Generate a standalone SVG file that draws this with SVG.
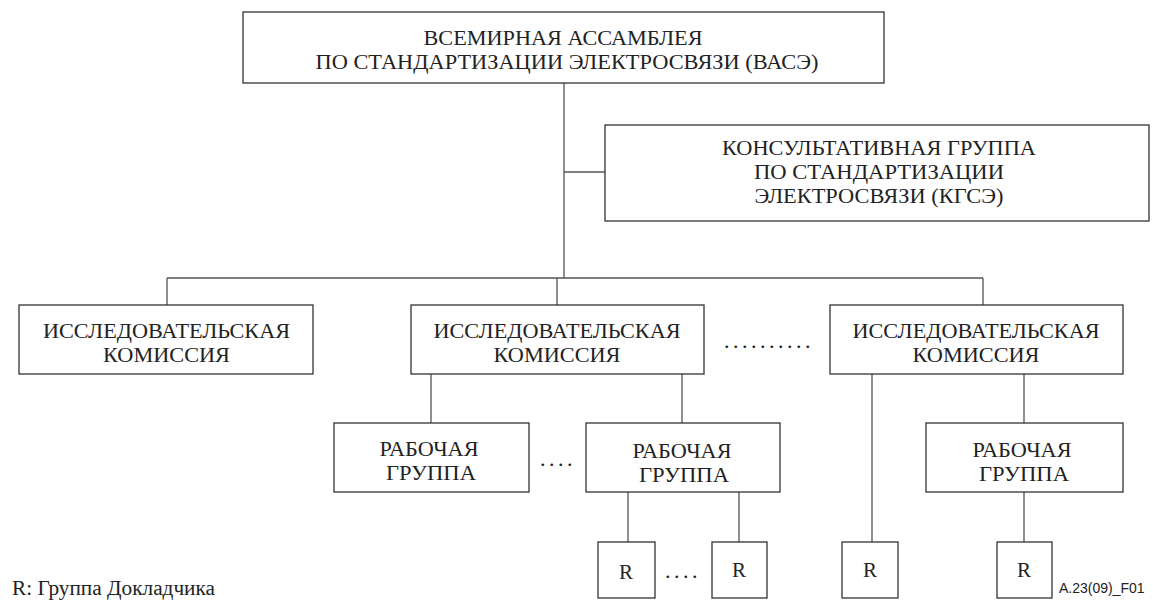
<svg xmlns="http://www.w3.org/2000/svg" width="1153" height="600" viewBox="0 0 1153 600">
<style>
.box{fill:#fff;stroke:#333;stroke-width:1.3}
.t{font-family:"Liberation Serif","Times New Roman",serif;font-size:21px;fill:#222;text-anchor:middle}
.dots{font-family:"Liberation Serif","Times New Roman",serif;font-size:22px;fill:#222;letter-spacing:3.5px}
.c{stroke:#555;stroke-width:1.3;fill:none}
</style>
<rect width="1153" height="600" fill="#fff"/>
<g id="connectors">
<path class="c" d="M564 83V278M564 172H605M167 278H983M167 278V305M557 278V305M983 278V305"/>
<path class="c" d="M431 374V423M682 374V423M872 374V542M1024 374V423M628 492V542M739 492V542M1024 492V542"/>
</g>
<g id="wtsa"><rect class="box" x="243" y="12" width="641" height="71"/>
<text class="t" x="563" y="45" textLength="279" lengthAdjust="spacingAndGlyphs">ВСЕМИРНАЯ АССАМБЛЕЯ</text><text class="t" x="567" y="69" textLength="503" lengthAdjust="spacingAndGlyphs">ПО СТАНДАРТИЗАЦИИ ЭЛЕКТРОСВЯЗИ (ВАСЭ)</text></g>
<g id="tsag"><rect class="box" x="605" y="125" width="544" height="96"/>
<text class="t" x="879" y="155" textLength="314" lengthAdjust="spacingAndGlyphs">КОНСУЛЬТАТИВНАЯ ГРУППА</text><text class="t" x="879" y="179" textLength="250" lengthAdjust="spacingAndGlyphs">ПО СТАНДАРТИЗАЦИИ</text><text class="t" x="879" y="203" textLength="249" lengthAdjust="spacingAndGlyphs">ЭЛЕКТРОСВЯЗИ (КГСЭ)</text></g>
<g id="sg1"><rect class="box" x="19" y="305" width="294" height="69"/>
<text class="t" x="166.5" y="338" textLength="247" lengthAdjust="spacingAndGlyphs">ИССЛЕДОВАТЕЛЬСКАЯ</text><text class="t" x="166.5" y="362" textLength="127" lengthAdjust="spacingAndGlyphs">КОМИССИЯ</text></g>
<g id="sg2"><rect class="box" x="411" y="305" width="293" height="69"/>
<text class="t" x="557" y="338" textLength="247" lengthAdjust="spacingAndGlyphs">ИССЛЕДОВАТЕЛЬСКАЯ</text><text class="t" x="557" y="362" textLength="127" lengthAdjust="spacingAndGlyphs">КОМИССИЯ</text></g>
<g id="sg3"><rect class="box" x="830" y="305" width="293" height="69"/>
<text class="t" x="976" y="338" textLength="247" lengthAdjust="spacingAndGlyphs">ИССЛЕДОВАТЕЛЬСКАЯ</text><text class="t" x="976" y="362" textLength="127" lengthAdjust="spacingAndGlyphs">КОМИССИЯ</text></g>
<text class="dots" x="724" y="348">..........</text>
<g id="wp1"><rect class="box" x="334" y="423" width="195" height="69"/>
<text class="t" x="429" y="456" textLength="99" lengthAdjust="spacingAndGlyphs">РАБОЧАЯ</text><text class="t" x="431" y="480" textLength="90" lengthAdjust="spacingAndGlyphs">ГРУППА</text></g>
<text class="dots" x="540" y="466">....</text>
<g id="wp2"><rect class="box" x="586" y="423" width="194" height="69"/>
<text class="t" x="682" y="458" textLength="99" lengthAdjust="spacingAndGlyphs">РАБОЧАЯ</text><text class="t" x="684" y="482" textLength="90" lengthAdjust="spacingAndGlyphs">ГРУППА</text></g>
<g id="wp3"><rect class="box" x="926" y="423" width="197" height="69"/>
<text class="t" x="1022" y="457" textLength="99" lengthAdjust="spacingAndGlyphs">РАБОЧАЯ</text><text class="t" x="1024" y="481" textLength="90" lengthAdjust="spacingAndGlyphs">ГРУППА</text></g>
<g id="r1"><rect class="box" x="598" y="542" width="57" height="56"/><text class="t" x="626" y="579">R</text></g>
<text class="dots" x="665" y="578">....</text>
<g id="r2"><rect class="box" x="712" y="542" width="55" height="56"/><text class="t" x="739" y="577">R</text></g>
<g id="r3"><rect class="box" x="842" y="542" width="56" height="56"/><text class="t" x="870" y="577">R</text></g>
<g id="r4"><rect class="box" x="997" y="542" width="55" height="56"/><text class="t" x="1024" y="577">R</text></g>
<text x="12" y="595" font-family="'Liberation Serif','Times New Roman',serif" font-size="20" fill="#222" textLength="203" lengthAdjust="spacingAndGlyphs">R: Группа Докладчика</text>
<text x="1059" y="593" font-family="'Liberation Sans',Arial,sans-serif" font-size="14" fill="#222">A.23(09)_F01</text>
</svg>
